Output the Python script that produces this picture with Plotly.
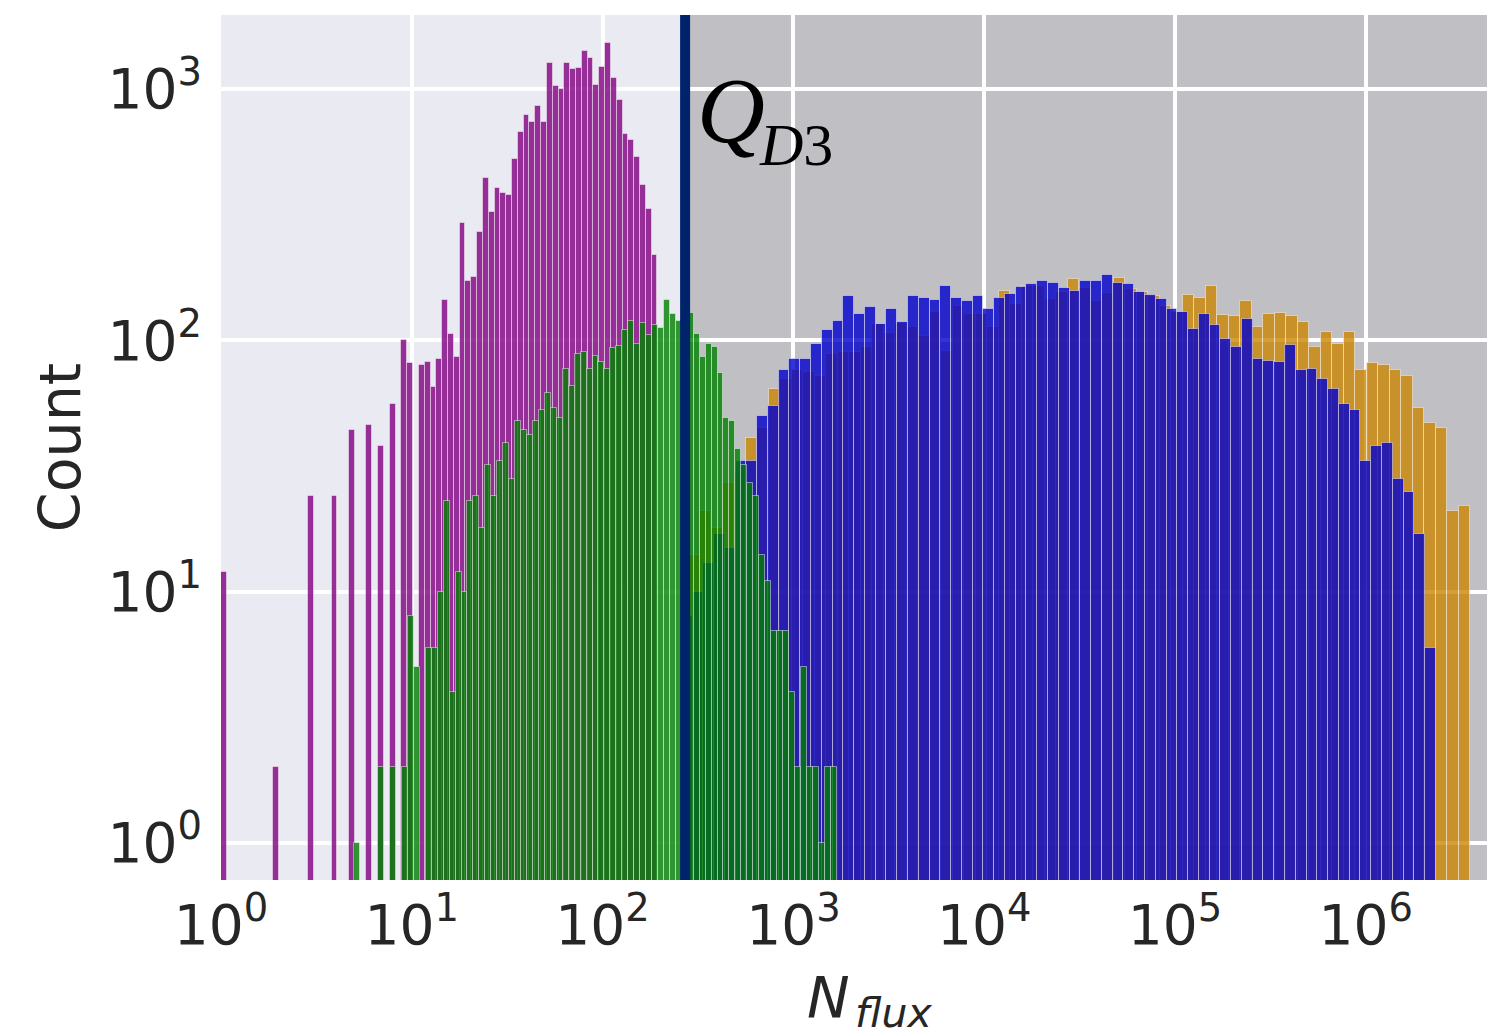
import numpy as np
import plotly.graph_objects as go

# Histogram counts per bin; bins are uniform in log10(N_flux).
# Each series: first bin edge (log10), bin width (log10), counts.
mag_start, mag_width = 0.0, 0.0305
mag_counts = [12, 0, 0, 0, 0, 0, 0, 0, 0, 2,
              0, 0, 0, 0, 0, 24, 0, 0, 0, 24,
              0, 0, 44, 0, 0, 46, 0, 38, 0, 56,
              0, 100, 81, 0, 80, 82, 65, 84, 145, 106,
              86, 293, 173, 179, 269, 444, 323, 404, 387, 379,
              527, 676, 791, 738, 855, 738, 1270, 1026, 1005, 1270,
              1205, 1218, 1412, 1325, 1037, 1227, 1524, 1104, 904, 660,
              630, 538, 414, 333, 219]

grn_start, grn_width = 0.699, 0.0312
grn_counts = [1, 0, 0, 0, 2, 0, 2, 0, 2, 8,
              5, 0, 6, 6, 10, 23, 4, 12, 10, 23,
              24, 18, 32, 24, 33, 39, 28, 48, 44, 42,
              48, 53, 62, 54, 49, 77, 66, 88, 90, 77,
              87, 82, 77, 93, 95, 110, 120, 97, 117, 105,
              115, 112, 145, 128, 120, 130, 129, 106, 86, 97,
              94, 74, 49, 48, 37, 32, 27, 24, 14, 11,
              7, 7, 7, 4, 2, 5, 2, 2, 1, 2, 2]

blu_start, blu_width = 2.4147, 0.05646
blu_counts = [8, 10, 13, 17, 15, 33, 33, 50, 55, 76,
              84, 84, 97, 110, 119, 150, 127, 136, 116, 134,
              118, 150, 148, 145, 165, 148, 143, 150, 133, 147,
              153, 163, 168, 173, 170, 161, 158, 172, 173, 182,
              170, 168, 156, 151, 146, 134, 130, 111, 128, 115,
              101, 94, 122, 84, 83, 82, 96, 76, 77, 70,
              64, 56, 53, 33, 38, 39, 28, 25, 17, 6]

org_start, org_width = 2.4477, 0.06029
org_counts = [14, 21, 18, 27, 30, 41, 45, 64, 70, 76,
              75, 72, 88, 90, 90, 94, 116, 107, 117, 113,
              104, 130, 91, 137, 127, 127, 113, 158, 140, 164,
              164, 146, 156, 175, 161, 144, 154, 178, 160, 156,
              150, 137, 130, 152, 148, 165, 126, 125, 143, 113,
              128, 129, 125, 118, 94, 108, 97, 108, 76, 81,
              80, 76, 72, 54, 47, 45, 21, 22]

q_d3 = 270.6          # threshold marked by the vertical line
x_ticks = [0, 1, 2, 3, 4, 5, 6]
y_ticks = [0, 1, 2, 3]

FONT = "DejaVu Sans"
SERIF = "Liberation Serif"
TXT = "#262626"

fig = go.Figure()


def add_hist(counts, start, width, color):
    counts = np.asarray(counts, dtype=float)
    edges = start + width * np.arange(len(counts) + 1)
    lo = 10 ** edges[:-1]
    hi = 10 ** edges[1:]
    y = [c if c > 0 else None for c in counts]
    fig.add_trace(go.Bar(
        x=lo, y=y, width=hi - lo, offset=0,
        marker=dict(color=color, line=dict(color="rgba(255,255,255,0.45)", width=1)),
        showlegend=False, hoverinfo="skip",
    ))


# drawing order: orange, blue, magenta, green
add_hist(org_counts, org_start, org_width, "rgba(203,134,4,0.8)")
add_hist(blu_counts, blu_start, blu_width, "rgba(0,0,205,0.8)")
add_hist(mag_counts, mag_start, mag_width, "rgba(128,0,128,0.8)")
add_hist(grn_counts, grn_start, grn_width, "rgba(0,128,0,0.8)")

# shaded region above the threshold
fig.add_shape(type="rect", xref="x", yref="paper", x0=q_d3, x1=10 ** 7, y0=0, y1=1,
              fillcolor="rgba(128,128,128,0.4)", line=dict(width=0), layer="between")
fig.add_shape(type="line", xref="x", yref="paper", x0=q_d3, x1=q_d3, y0=0, y1=1,
              line=dict(color="#00246b", width=10), layer="above")

# threshold label: Q with subscript D3
fig.add_annotation(
    x=np.log10(305), y=0.8905, xref="x", yref="paper",
    text="<i>Q</i>", showarrow=False, xanchor="left", yanchor="middle",
    font=dict(family=SERIF, size=94, color="black"),
)
fig.add_annotation(
    x=np.log10(644), y=0.850, xref="x", yref="paper",
    text="<i>D</i>3", showarrow=False, xanchor="left", yanchor="middle",
    font=dict(family=SERIF, size=60, color="black"),
)

# x-axis label: N with subscript flux
fig.add_annotation(
    x=0.4985, y=-0.136, xref="paper", yref="paper",
    text="<i>N</i>", showarrow=False, xanchor="right", yanchor="middle",
    font=dict(family=FONT, size=57, color=TXT),
)
fig.add_annotation(
    x=0.4995, y=-0.1535, xref="paper", yref="paper",
    text="<i>flux</i>", showarrow=False, xanchor="left", yanchor="middle",
    font=dict(family=FONT, size=41, color=TXT),
)

fig.update_layout(
    width=1487, height=1032,
    margin=dict(l=221, r=0, t=15, b=152),
    paper_bgcolor="white", plot_bgcolor="#EAEAF2",
    barmode="overlay", bargap=0,
    font=dict(family=FONT, color=TXT),
)

fig.update_xaxes(
    type="log", range=[0, 6.635],
    tickvals=[10 ** k for k in x_ticks],
    ticktext=[f"10<sup>{k}</sup>" for k in x_ticks],
    tickfont=dict(size=55, family=FONT, color=TXT),
    showgrid=True, gridcolor="white", gridwidth=4,
    zeroline=False, showline=False, ticks="",
    ticklabelstandoff=8,
)
fig.update_yaxes(
    type="log", range=[-0.147, 3.295],
    tickvals=[10 ** k for k in y_ticks],
    ticktext=[f"10<sup>{k}</sup>" for k in y_ticks],
    tickfont=dict(size=55, family=FONT, color=TXT),
    showgrid=True, gridcolor="white", gridwidth=4,
    zeroline=False, showline=False, ticks="",
    ticklabelstandoff=18,
    title=dict(text="Count", font=dict(size=57, family=FONT, color=TXT), standoff=8),
)

fig.write_html("out.html")
